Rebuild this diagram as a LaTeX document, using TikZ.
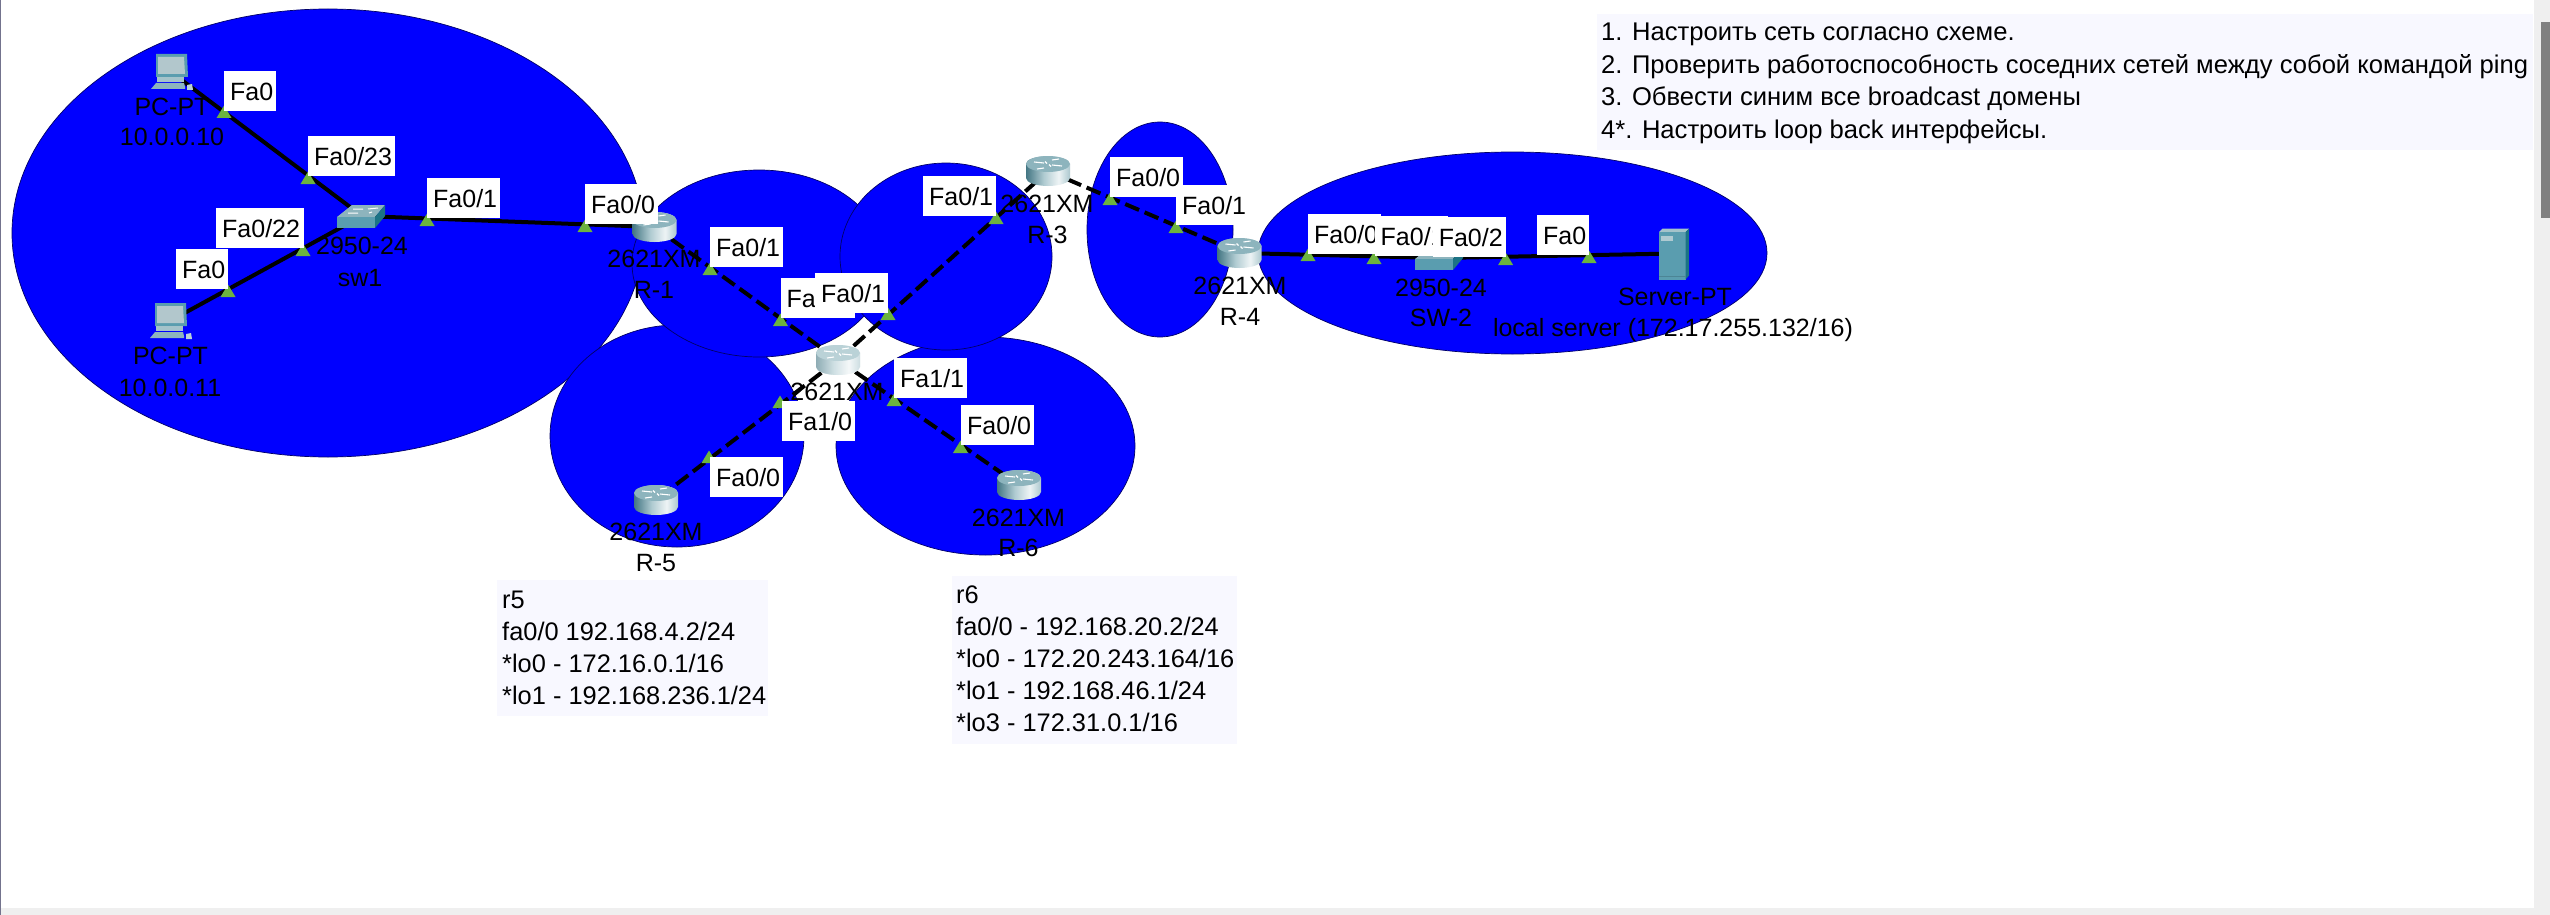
\documentclass[tikz,border=0pt]{standalone}
\usepackage{fontspec}
\setmainfont{Liberation Sans}
\definecolor{domainblue}{HTML}{0000FF}
\definecolor{linkgreen}{HTML}{6CB33F}
\definecolor{notebg}{HTML}{F8F8FF}
\definecolor{barbg}{HTML}{EFEFEF}
\definecolor{thumbc}{HTML}{808080}
\definecolor{topc}{HTML}{8DB4BD}
\definecolor{frontc}{HTML}{5A9DAF}
\definecolor{sidec}{HTML}{1C7385}
\pgfdeclarehorizontalshading{routerside}{100bp}{
  color(0bp)=(frontc!75!black);
  color(25bp)=(frontc!75!black);
  color(45bp)=(topc!70!white);
  color(62bp)=(white!85!topc);
  color(72bp)=(topc!60!white);
  color(100bp)=(frontc!70!black)}
\newcommand{\devtext}[4]{\node[devlabel] (#1) at (#2,#3+9) {#4};}
\newcommand{\iflabel}[5]{\node[ifbox,minimum width=#4pt] (#1) at (#2,#3) {\makebox[#4pt][l]{\hspace{6pt}\smash{\raisebox{-9pt}{#5}}}};}
\newcommand{\linklight}[3]{\coordinate (#1) at (#2,#3); \fill[linkgreen] ([shift={(-7.5,6)}]#1) -- ([shift={(7.5,6)}]#1) -- ([shift={(0,-6.5)}]#1) -- cycle;}
\tikzset{
  x=1pt,y=-1pt,
  bcdomain/.style={fill=domainblue,draw=black!60!domainblue,line width=0.7pt},
  solidlink/.style={draw=black,line width=4pt},
  dashlink/.style={draw=black,line width=4pt,dash pattern=on 15pt off 6pt},
  devlabel/.style={anchor=base,inner sep=0pt,font=\fontsize{25}{30}\selectfont,text=black},
  ifbox/.style={anchor=north west,fill=white,inner sep=0pt,minimum height=40pt,font=\fontsize{25}{30}\selectfont,text=black},
  notebox/.style={anchor=north west,inner sep=0pt,text=black},
  routerarrows/.style={draw=white,line width=1.1pt},
  router/.pic={
    \shade[shading=routerside]
      (-22,-7) -- (-22,7) arc[start angle=180,end angle=360,x radius=22pt,y radius=8pt] -- (22,-7) arc[start angle=0,end angle=180,x radius=22pt,y radius=8pt] -- cycle;
    \fill[topc] (0,-7) ellipse[x radius=22pt,y radius=8pt];
    \draw[routerarrows] (-14,-9) -- (-4,-8) (4,-6) -- (14,-5) (-4,-3) -- (-11,-2) (4,-11) -- (11,-12) ;
    \draw[routerarrows] (-3,-9.5) -- (-1,-7.5) (3,-4.5) -- (1,-6.5);
  },
  pcicon/.pic={
    \fill[frontc] (-15,-18) -- (16,-18) -- (17,5) -- (-15,5) -- cycle;
    \fill[black!10!topc!60!white] (-13,-15) -- (13,-15) -- (14,2) -- (-13,2) -- cycle;
    \fill[topc!80!white] (-14,5) -- (13,5) -- (13,10) -- (-14,10) -- cycle;
    \fill[topc] (-15,11) -- (13,11) -- (14,15) -- (14,17) -- (-20,17) -- cycle;
    \fill[topc!60!white] (16,13) -- (21,12) -- (22,18) -- (16,18) -- cycle;
  },
  swicon/.pic={
    \fill[topc] (-25,1) -- (-10,-11) -- (23,-11) -- (13,1) -- cycle;
    \fill[frontc] (-25,1) -- (13,1) -- (13,12) -- (-25,12) -- cycle;
    \fill[sidec] (13,1) -- (23,-11) -- (23,0) -- (13,12) -- cycle;
    \draw[white,line width=1pt] (-9,-7) -- (1,-7) (6,-7) -- (16,-8) (-14,-3) -- (-4,-3) (7,-3) -- (10,-4);
  },
  srvicon/.pic={
    \fill[topc!80!white] (-15.5,-21.5) -- (-12,-25) -- (14.5,-25) -- (11,-21.5) -- cycle;
    \fill[frontc] (-15.5,-21.5) -- (11,-21.5) -- (11,26) -- (-15.5,26) -- cycle;
    \fill[sidec] (11,-21.5) -- (14.5,-25) -- (14.5,22) -- (11,26) -- cycle;
    \fill[topc!70!white] (-13.5,-17.5) rectangle (-2,-13);
    \fill[frontc!85!black] (-15.5,22) rectangle (11,23);
  }
}
\begin{document}
\begin{tikzpicture}
\useasboundingbox (0,0) rectangle (2550,915);
\fill[white] (0,0) rectangle (2550,915);
% window chrome
\fill[barbg] (0,908) rectangle (2550,915);
\fill[barbg] (2534,0) rectangle (2550,915);
\fill[thumbc] (2541,22) rectangle (2550,218);
\fill[thumbc!90!blue] (0,0) rectangle (1,915);
% broadcast domains
\draw[bcdomain] (328,233) ellipse[x radius=316pt,y radius=224pt];
\draw[bcdomain] (677,436) ellipse[x radius=127pt,y radius=111pt];
\draw[bcdomain] (985.5,446) ellipse[x radius=149.5pt,y radius=109pt];
\draw[bcdomain] (759,263.5) ellipse[x radius=127pt,y radius=93.5pt];
\draw[bcdomain] (946,256.5) ellipse[x radius=106pt,y radius=93.5pt];
\draw[bcdomain] (1160,229.5) ellipse[x radius=73pt,y radius=107.5pt];
\draw[bcdomain] (1512.5,253) ellipse[x radius=254.5pt,y radius=101pt];
% device anchors
\coordinate (pc0) at (171,72);
\coordinate (pc1) at (170,321);
\coordinate (sw1) at (362,216);
\coordinate (r1) at (654.5,227);
\coordinate (r2) at (838,360);
\coordinate (r3) at (1048,171);
\coordinate (r4) at (1239.5,253);
\coordinate (r5) at (656,500);
\coordinate (r6) at (1019,485);
\coordinate (sw2) at (1440,258);
\coordinate (srv) at (1674.5,253.5);
% links
\draw[solidlink] (pc0) -- (sw1);
\draw[solidlink] (pc1) -- (sw1);
\draw[solidlink] (sw1) -- (r1);
\draw[dashlink] (r1) -- (r2);
\draw[dashlink] (r2) -- (r3);
\draw[dashlink] (r3) -- (r4);
\draw[dashlink] (r2) -- (r5);
\draw[dashlink] (r2) -- (r6);
\draw[solidlink] (r4) -- (sw2);
\draw[solidlink] (sw2) -- (srv);
% icons
\pic at (pc0) {pcicon};
\pic at (pc1) {pcicon};
\pic at (sw1) {swicon};
\pic at (sw2) {swicon};
\pic at (srv) {srvicon};
\pic at (r1) {router};
\pic at (r2) {router};
\fill[white,opacity=0.4] (815.5,352.5) -- (815.5,367) arc[start angle=180,end angle=360,x radius=22.5pt,y radius=8pt] -- (860.5,352.5) arc[start angle=0,end angle=180,x radius=22.5pt,y radius=8pt] -- cycle;
\pic at (r3) {router};
\pic at (r4) {router};
\pic at (r5) {router};
\pic at (r6) {router};
% device labels
\devtext{t1}{172}{107}{PC-PT}
\devtext{t2}{172}{137}{10.0.0.10}
\devtext{t3}{170.5}{355.5}{PC-PT}
\devtext{t4}{170}{387}{10.0.0.11}
\devtext{t5}{362}{245}{2950-24}
\devtext{t6}{360}{277}{sw1}
\devtext{t7}{654}{258}{2621XM}
\devtext{t8}{654}{289.5}{R-1}
\devtext{t9}{837}{391.5}{2621XM}
\devtext{t10}{1047}{203.5}{2621XM}
\devtext{t11}{1047.5}{234}{R-3}
\devtext{t12}{656}{531.5}{2621XM}
\devtext{t13}{656}{562.5}{R-5}
\devtext{t14}{1018.5}{517}{2621XM}
\devtext{t15}{1018.5}{547.5}{R-6}
\devtext{t16}{1240}{285}{2621XM}
\devtext{t17}{1240}{316}{R-4}
\devtext{t18}{1441}{287}{2950-24}
\devtext{t19}{1441}{317.5}{SW-2}
\devtext{t20}{1675}{296}{Server-PT}
\devtext{t21}{1673}{327}{local server (172.17.255.132/16)}
% link lights
\linklight{l1}{224}{112}
\linklight{l2}{308}{178}
\linklight{l3}{303}{250}
\linklight{l4}{228}{291}
\linklight{l5}{427}{220}
\linklight{l6}{585}{226}
\linklight{l7}{710}{269}
\linklight{l8}{780.5}{320}
\linklight{l9}{888}{314}
\linklight{l10}{996}{218}
\linklight{l11}{780}{402}
\linklight{l12}{709}{457}
\linklight{l13}{894}{400}
\linklight{l14}{960.5}{447}
\linklight{l15}{1110}{199}
\linklight{l16}{1176}{227}
\linklight{l17}{1308}{255}
\linklight{l18}{1374}{258}
\linklight{l19}{1505.6}{259}
\linklight{l20}{1589}{257}
% interface labels
\iflabel{i1}{224}{71}{52}{Fa0}
\iflabel{i2}{308}{136}{87}{Fa0/23}
\iflabel{i3}{216}{208}{87.5}{Fa0/22}
\iflabel{i4}{176}{249}{52}{Fa0}
\iflabel{i5}{427}{178}{73}{Fa0/1}
\iflabel{i6}{585}{184}{73}{Fa0/0}
\iflabel{i7}{710}{227}{73}{Fa0/1}
\iflabel{i8}{780.5}{278}{74.5}{Fa}
\iflabel{i9}{815}{273}{73}{Fa0/1}
\iflabel{i10}{894}{358}{73}{Fa1/1}
\iflabel{i11}{782}{401}{73}{Fa1/0}
\iflabel{i12}{710}{457}{73}{Fa0/0}
\iflabel{i13}{961}{405}{73}{Fa0/0}
\iflabel{i14}{923}{176}{73}{Fa0/1}
\iflabel{i15}{1110}{157}{73}{Fa0/0}
\iflabel{i16}{1176}{185}{73}{Fa0/1}
\iflabel{i17}{1308}{214}{73}{Fa0/0}
\iflabel{i18}{1374.5}{216}{73}{Fa0/1}
\iflabel{i19}{1432.6}{217}{73}{Fa0/2}
\iflabel{i20}{1537}{215}{52}{Fa0}
% notes
\fill[notebg] (1597,14) rectangle (2533,150);
\node[notebox,align=left,font=\fontsize{25.6}{32.5}\selectfont] (task) at (1601,23) {1. Настроить сеть согласно схеме.\\2. Проверить работоспособность соседних сетей между собой командой ping\\3. Обвести синим все broadcast домены\\4*. Настроить loop back интерфейсы.};
\fill[notebg] (497,580) rectangle (768,716);
\node[notebox,align=left,font=\fontsize{25.4}{32}\selectfont] (noter5) at (502,591) {r5\\fa0/0 192.168.4.2/24\\*lo0 - 172.16.0.1/16\\*lo1 - 192.168.236.1/24};
\fill[notebg] (952,576) rectangle (1237,744);
\node[notebox,align=left,font=\fontsize{25.4}{32}\selectfont] (noter6) at (956,586) {r6\\fa0/0 - 192.168.20.2/24\\*lo0 - 172.20.243.164/16\\*lo1 - 192.168.46.1/24\\*lo3 - 172.31.0.1/16};
\end{tikzpicture}
\end{document}
